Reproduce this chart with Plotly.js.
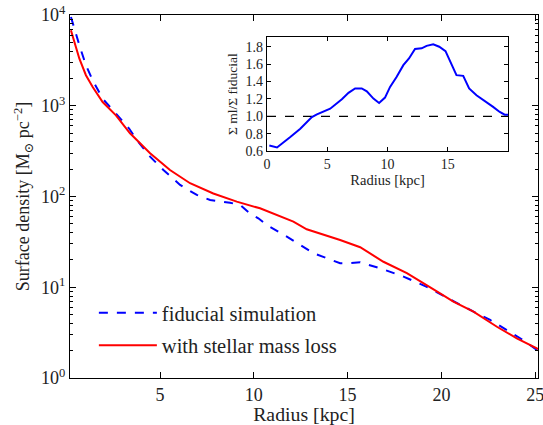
<!DOCTYPE html>
<html><head><meta charset="utf-8">
<script src="https://cdn.plot.ly/plotly-3.0.1.min.js"></script>
<style>body{margin:0;padding:0;background:#fff}#c{width:543px;height:425px}</style>
</head><body><div id="c"></div>
<script>
// Main panel: surface density profiles
const radiusFid = [0.25,0.43,0.70,1.05,1.41,1.94,2.65,3.36,3.76,4.47,5.18,6.07,6.96,7.67,8.73,9.27,9.80,10.24,10.69,11.76,13.18,14.6,15.13,15.67,16.73,17.98,19.22,19.93,20.82,21.71,22.6,23.31,24.2,25.09,25.15];
const sigmaFid = [9500,7060,4640,2790,1907,1197,817,558,420,275,196,134,104,91.5,85.4,80.6,65,57.5,48.5,36.1,23.7,18.4,18.4,18.8,16.2,13.1,10.1,8.43,6.65,5.38,4.36,3.53,2.74,2.04,2.0];
const radiusML = [0.25,0.43,0.70,1.05,1.41,1.94,2.65,3.40,4.47,5.53,6.60,7.84,9.09,10.33,10.69,12.11,12.82,14.6,15.67,16.91,18.16,19.22,19.93,20.64,21.71,22.96,24.02,25.09,25.15];
const sigmaML = [6780,5030,3300,2170,1610,1099,785,497,299,196,140,108,87.7,74.1,69,52.8,43.5,33.2,27.6,19.1,14.3,10.6,8.57,6.93,5.38,3.67,2.74,2.12,2.08];
// Inset: ratio
const radiusRatio = [0.19,0.83,1.93,2.76,3.72,4.14,5.24,6.21,6.76,7.31,7.86,8.28,8.83,9.30,9.79,10.21,10.76,11.31,11.78,12.28,12.83,13.24,13.79,14.29,14.81,15.31,15.72,16.28,16.77,17.38,18.21,18.76,19.31,19.72,20.0];
const ratio = [0.665,0.642,0.762,0.858,0.992,1.023,1.088,1.196,1.27,1.32,1.32,1.288,1.204,1.154,1.215,1.338,1.454,1.588,1.665,1.773,1.781,1.81,1.827,1.80,1.75,1.608,1.473,1.465,1.32,1.242,1.165,1.108,1.05,1.019,1.019];
const refX = [0,20];
const refY = [1,1];
const xTicks = [5,10,15,20,25];
const yTickVals = [1,10,100,1000,10000];
const yTickText = ['10<sup>0</sup>','10<sup>1</sup>','10<sup>2</sup>','10<sup>3</sup>','10<sup>4</sup>'];
const insetXTicks = [0,5,10,15];
const insetYTicks = [0.6,0.8,1.0,1.2,1.4,1.6,1.8];
const minorDigits = [2,3,4,5,6,7,8,9];
const decades = [1,10,100,1000];
const yMinor = [];
decades.forEach(d => minorDigits.forEach(m => yMinor.push(d*m)));

const F = 'Liberation Serif, DejaVu Serif, serif';
const traces = [
  {x: radiusFid, y: sigmaFid, type:'scatter', mode:'lines', name:'fiducial simulation', legendgroup:'a',
   line:{color:'#0000ff', width:2, dash:'dash'}, xaxis:'x', yaxis:'y'},
  {x: radiusML, y: sigmaML, type:'scatter', mode:'lines', name:'with stellar mass loss', legendgroup:'b',
   line:{color:'#ff0000', width:2}, xaxis:'x', yaxis:'y'},
  {x: refX, y: refY, type:'scatter', mode:'lines', showlegend:false,
   line:{color:'#000', width:1.3, dash:'dash'}, xaxis:'x2', yaxis:'y2'},
  {x: radiusRatio, y: ratio, type:'scatter', mode:'lines', showlegend:false,
   line:{color:'#0000ff', width:2}, xaxis:'x2', yaxis:'y2'}
];
const layout = {
  width:543, height:425,
  margin:{l:70, r:5, t:15, b:47},
  paper_bgcolor:'#fff', plot_bgcolor:'#fff',
  font:{family:F, color:'#222', size:18},
  showlegend:true,
  legend:{x:0.051, y:0.134, xanchor:'left', yanchor:'middle', bgcolor:'rgba(0,0,0,0)', itemwidth:58,
          font:{family:F, size:20.5, color:'#222'}, tracegroupgap:3},
  xaxis:{domain:[0,1], range:[0.2,25.15], tickvals:xTicks, ticks:'inside', ticklen:6, tickcolor:'#000',
         showline:true, linecolor:'#000', linewidth:1.2, mirror:'ticks', showgrid:false, zeroline:false,
         ticklabeloverflow:'allow',
         tickfont:{size:18}, title:{text:'Radius [kpc]', font:{size:19.8}, standoff:5}},
  yaxis:{domain:[0,1], type:'log', range:[0,4], tickvals:yTickVals, ticktext:yTickText, ticks:'inside', ticklen:6,
         tickcolor:'#000', showline:true, linecolor:'#000', linewidth:1.2, mirror:'ticks', showgrid:false, zeroline:false,
         minor:{tickmode:'array', tickvals:yMinor, ticks:'inside', ticklen:3, tickcolor:'#000', showgrid:false},
         tickfont:{size:18}, title:{text:'Surface density [M<sub>⊙</sub> pc<sup>−2</sup>]', font:{size:18}, standoff:6}},
  xaxis2:{domain:[0.421,0.936], anchor:'y2', range:[0,20], tickvals:insetXTicks, ticks:'inside', ticklen:4, tickcolor:'#000',
          showline:true, linecolor:'#000', linewidth:1.2, mirror:'ticks', showgrid:false, zeroline:false,
          tickfont:{size:14}, title:{text:'Radius [kpc]', font:{size:14.5}, standoff:3}},
  yaxis2:{domain:[0.625,0.939], anchor:'x2', range:[0.6,1.91], tickvals:insetYTicks, tickformat:'.1f', ticks:'inside', ticklen:4,
          tickcolor:'#000', showline:true, linecolor:'#000', linewidth:1.2, mirror:'ticks', showgrid:false, zeroline:false,
          tickfont:{size:14}, title:{text:'Σ ml/Σ fiducial', font:{size:13.5}, standoff:4}}
};
Plotly.newPlot('c', traces, layout, {staticPlot:true, displayModeBar:false});
</script></body></html>
